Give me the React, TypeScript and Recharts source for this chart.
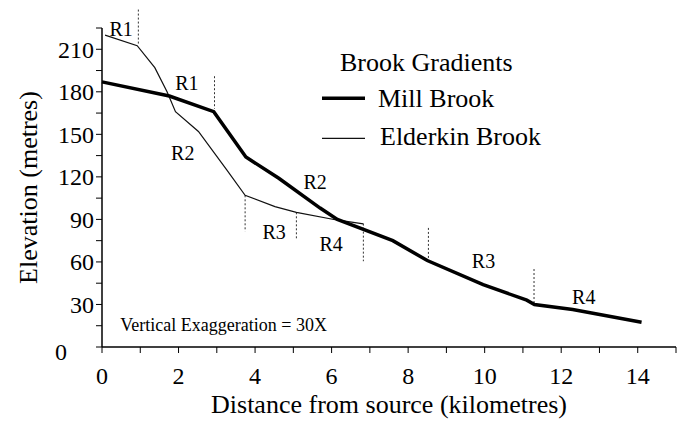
import React from 'react';
import {
  LineChart,
  Line,
  XAxis,
  YAxis,
  ReferenceLine,
  ReferenceDot,
  Legend,
} from 'recharts';

// distance from source (km) vs elevation (m)
const millBrook = [
  { km: 0, m: 187 },
  { km: 1.76, m: 177 },
  { km: 2.92, m: 166 },
  { km: 3.76, m: 134 },
  { km: 4.62, m: 119 },
  { km: 5.7, m: 98 },
  { km: 6.15, m: 90 },
  { km: 7.6, m: 75 },
  { km: 8.5, m: 61 },
  { km: 9.96, m: 44 },
  { km: 11.1, m: 33 },
  { km: 11.3, m: 30 },
  { km: 12.3, m: 26.5 },
  { km: 14.1, m: 17.5 },
];

const elderkinBrook = [
  { km: 0.08, m: 220 },
  { km: 0.92, m: 212.5 },
  { km: 1.38, m: 197 },
  { km: 1.7, m: 180 },
  { km: 1.92, m: 166 },
  { km: 2.52, m: 152 },
  { km: 3.26, m: 125 },
  { km: 3.74, m: 107 },
  { km: 4.52, m: 99 },
  { km: 5.08, m: 95 },
  { km: 6.13, m: 89.6 },
  { km: 6.83, m: 86.8 },
];

const xTicks = [0, 1, 2, 3, 4, 5, 6, 7, 8, 9, 10, 11, 12, 13, 14, 15];
const yTicks = [0, 15, 30, 45, 60, 75, 90, 105, 120, 135, 150, 165, 180, 195, 210, 225];

// reach boundaries (dotted)
const reachBreaks = [
  { km: 0.95, top: 238, bottom: 213 },
  { km: 2.94, top: 191, bottom: 168 },
  { km: 3.74, top: 107, bottom: 81.5 },
  { km: 5.08, top: 95, bottom: 76.5 },
  { km: 6.83, top: 87, bottom: 60.5 },
  { km: 8.53, top: 84, bottom: 60.7 },
  { km: 11.29, top: 55, bottom: 30 },
];

const reachLabels = [
  { text: 'R1', km: 0.5, m: 224.5 },
  { text: 'R1', km: 2.22, m: 186 },
  { text: 'R2', km: 2.11, m: 136.7 },
  { text: 'R2', km: 5.57, m: 116.7 },
  { text: 'R3', km: 4.5, m: 81.4 },
  { text: 'R4', km: 5.99, m: 72.9 },
  { text: 'R3', km: 9.97, m: 60.7 },
  { text: 'R4', km: 12.59, m: 35.4 },
];

const FONT = '"Liberation Serif", "Times New Roman", serif';

const XTick = (props: any) => {
  const { x, y, payload } = props;
  if (payload.value % 2 !== 0) return null;
  return (
    <text x={x} y={y + 29} textAnchor="middle" fontFamily={FONT} fontSize={24} fill="#000">
      {payload.value}
    </text>
  );
};

const YTick = (props: any) => {
  const { x, y, payload } = props;
  if (payload.value % 30 !== 0) return null;
  const isZero = payload.value === 0;
  return (
    <text
      x={isZero ? x - 27 : x}
      y={isZero ? y + 5 : y}
      dy="0.35em"
      textAnchor="end"
      fontFamily={FONT}
      fontSize={24}
      fill="#000"
    >
      {payload.value}
    </text>
  );
};

const BrookLegend = () => (
  <div style={{ fontFamily: FONT, fontSize: 26, color: '#000' }}>
    <div style={{ height: 36, lineHeight: '36px', paddingLeft: 20, whiteSpace: 'nowrap' }}>
      Brook Gradients
    </div>
    <div style={{ height: 36, display: 'flex', alignItems: 'center', whiteSpace: 'nowrap' }}>
      <svg width={58} height={36} style={{ display: 'block' }}>
        <line x1={2} x2={45} y1={17.3} y2={17.3} stroke="#000" strokeWidth={3.5} />
      </svg>
      <span style={{ lineHeight: '36px' }}>Mill Brook</span>
    </div>
    <div style={{ height: 36, marginTop: 2, display: 'flex', alignItems: 'center', whiteSpace: 'nowrap' }}>
      <svg width={60} height={36} style={{ display: 'block' }}>
        <line x1={2} x2={45} y1={19.3} y2={19.3} stroke="#111" strokeWidth={1.2} />
      </svg>
      <span style={{ lineHeight: '36px' }}>Elderkin Brook</span>
    </div>
  </div>
);

export default function App() {
  return (
    <div style={{ position: 'absolute', left: 0, top: 0, background: '#fff' }}>
      <LineChart
        width={680}
        height={422}
        margin={{ top: 28, right: 4, bottom: 0, left: 22 }}
      >
        <XAxis
          type="number"
          dataKey="km"
          domain={[0, 15]}
          ticks={xTicks}
          interval={0}
          tickSize={6}
          tickMargin={2}
          tick={<XTick />}
          height={75}
          axisLine={{ stroke: '#000', strokeWidth: 1.5 }}
          tickLine={{ stroke: '#000' }}
          label={{
            value: 'Distance from source (kilometres)',
            position: 'insideBottom',
            offset: 9,
            fontFamily: FONT,
            fontSize: 26,
            fill: '#000',
          }}
        />
        <YAxis
          type="number"
          dataKey="m"
          domain={[0, 225]}
          ticks={yTicks}
          interval={0}
          width={80}
          tickSize={6}
          tickMargin={2}
          tick={<YTick />}
          axisLine={{ stroke: '#000', strokeWidth: 1.5 }}
          tickLine={{ stroke: '#000' }}
          label={{
            value: 'Elevation (metres)',
            angle: -90,
            position: 'insideLeft',
            offset: 6,
            fontFamily: FONT,
            fontSize: 26,
            fill: '#000',
            style: { textAnchor: 'middle' },
          }}
        />
        <Legend
          layout="vertical"
          align="center"
          verticalAlign="middle"
          content={<BrookLegend />}
          wrapperStyle={{ left: 320, top: 45, width: 260, height: 120 }}
        />
        {reachBreaks.map((b, i) => (
          <ReferenceLine
            key={'b' + i}
            segment={[
              { x: b.km, y: b.top },
              { x: b.km, y: b.bottom },
            ]}
            ifOverflow="visible"
            stroke="#333"
            strokeWidth={1}
            strokeDasharray="2 2"
          />
        ))}
        <Line
          data={elderkinBrook}
          dataKey="m"
          name="Elderkin Brook"
          type="linear"
          stroke="#111"
          strokeWidth={1.2}
          dot={false}
          activeDot={false}
          isAnimationActive={false}
        />
        <Line
          data={millBrook}
          dataKey="m"
          name="Mill Brook"
          type="linear"
          stroke="#000"
          strokeWidth={3.5}
          dot={false}
          activeDot={false}
          isAnimationActive={false}
        />
        {reachLabels.map((r, i) => (
          <ReferenceDot
            key={'r' + i}
            x={r.km}
            y={r.m}
            r={0}
            fill="none"
            stroke="none"
            ifOverflow="visible"
            label={{
              value: r.text,
              position: 'center',
              fontFamily: FONT,
              fontSize: 20,
              fill: '#000',
            }}
          />
        ))}
        <ReferenceDot
          x={0.48}
          y={15.8}
          r={0}
          fill="none"
          stroke="none"
          ifOverflow="visible"
          label={{
            value: 'Vertical Exaggeration = 30X',
            position: 'right',
            offset: 0,
            fontFamily: FONT,
            fontSize: 18,
            fill: '#000',
          }}
        />
      </LineChart>
    </div>
  );
}
